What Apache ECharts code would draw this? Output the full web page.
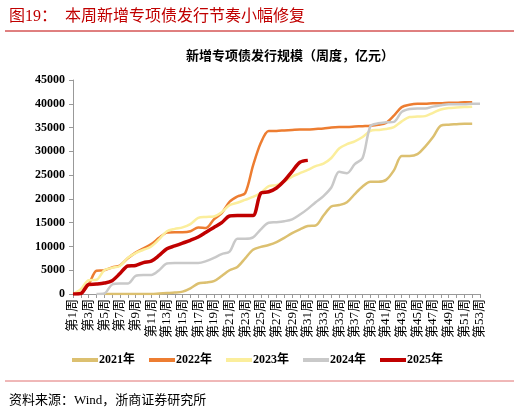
<!DOCTYPE html>
<html>
<head>
<meta charset="utf-8">
<script src="https://cdn.jsdelivr.net/npm/echarts@6/dist/echarts.min.js"></script>
<style>
  html, body { margin: 0; padding: 0; background: #fff; }
  #main { width: 520px; height: 412px; }
</style>
</head>
<body>
<div id="main"></div>
<script>
// 周度累计新增专项债（亿元）
var weeks = [];
for (var i = 1; i <= 53; i++) weeks.push('第' + i + '周');

var y2021 = [null, null, null, null, 0, 0, 0, 0, 0, 0, 0, 100, 200, 300, 500, 1200, 2200, 2400, 2700, 3800,
  5000, 5700, 7500, 9300, 9900, 10300, 10900, 11800, 12800, 13600, 14300, 14400, 16500, 18400, 18700, 19300,
  21000, 22600, 23600, 23600, 24000, 26000, 29000, 29000, 29400, 31000, 33000, 35400, 35600, 35700, 35800, 35800];
var y2022 = [0, 200, 2000, 4900, 5000, 5600, 6000, 7500, 8700, 9600, 10500, 11800, 12900, 13000, 13000, 13200,
  14000, 13900, 15700, 17000, 19400, 20500, 21200, 27000, 31800, 34300, 34300, 34400, 34500, 34600, 34600, 34700,
  34800, 35000, 35100, 35100, 35200, 35300, 35400, 35600, 36000, 37500, 39300, 39800, 40000, 40000, 40100, 40100,
  40200, 40200, 40300, 40300];
var y2023 = [0, 1000, 2900, 3000, 5000, 5500, 5900, 7600, 8600, 9300, 10000, 11500, 13200, 13700, 14000, 14700,
  16000, 16200, 16300, 17200, 18700, 19200, 19800, 20400, 21300, 22700, 22900, 23700, 24700, 25400, 26100, 26900,
  27400, 28600, 30600, 31500, 32100, 33000, 34300, 34500, 34700, 35100, 36300, 37200, 37300, 37400, 38100, 38800,
  39100, 39200, 39300, 39400];
var y2024 = [null, null, null, 0, 100, 2000, 2200, 2200, 3800, 4000, 4000, 5000, 6400, 6500, 6500, 6500, 6500,
  6900, 7600, 8400, 8900, 11600, 11600, 11900, 13600, 15000, 15100, 15300, 15700, 16700, 17900, 19300, 20600,
  22400, 25700, 25400, 27300, 28600, 35300, 35900, 36100, 36200, 38300, 38900, 39000, 39000, 39400, 39700, 39900,
  39900, 39900, 40000, 40000];
var y2025 = [0, 100, 2000, 2100, 2300, 2800, 4300, 5900, 6000, 6600, 6900, 8100, 9500, 10100, 10700, 11300,
  12000, 13000, 14000, 15000, 16400, 16500, 16500, 16500, 21200, 21500, 22300, 23800, 25800, 27700, 28100];

var seriesNames = ['2021年', '2022年', '2023年', '2024年', '2025年'];
var seriesData = [y2021, y2022, y2023, y2024, y2025];
var colors = ['#DCC070', '#ED7D31', '#FBEE9C', '#C9C9C9', '#C00000'];
var widths = [2.5, 2.5, 2.5, 2.5, 3.5];

var font = '"Liberation Serif", "Noto Sans CJK SC", serif';

var series = seriesNames.map(function (name, k) {
  return {
    name: name,
    type: 'line',
    data: seriesData[k],
    symbol: 'none',
    smooth: 0.3,
    color: colors[k],
    lineStyle: { width: widths[k], color: colors[k] },
    z: 2 + k
  };
});

var myChart = echarts.init(document.getElementById('main'));
var option = {
  backgroundColor: '#fff',
  animation: false,
  title: [{
    text: '图19：  本周新增专项债发行节奏小幅修复',
    left: 4, top: 4,
    textStyle: { fontFamily: font, fontSize: 16, fontWeight: 'normal', color: '#C00000' }
  }, {
    text: '新增专项债发行规模（周度，亿元）',
    left: 285, top: 45, textAlign: 'center',
    textStyle: { fontFamily: font, fontSize: 13, fontWeight: 'bold', color: '#000' }
  }, {
    text: '资料来源：Wind，浙商证券研究所',
    left: 4, top: 389,
    textStyle: { fontFamily: font, fontSize: 13, fontWeight: 'normal', color: '#000' }
  }],
  graphic: [{
    type: 'line', shape: { x1: 5, y1: 31, x2: 514, y2: 31 },
    style: { stroke: '#C00000', lineWidth: 1 }
  }, {
    type: 'line', shape: { x1: 5, y1: 381, x2: 514, y2: 381 },
    style: { stroke: '#E07070', lineWidth: 1 }
  }],
  legend: {
    data: seriesNames,
    left: 67, top: 349,
    itemWidth: 26, itemHeight: 4, itemGap: 14,
    icon: 'rect',
    textStyle: { fontFamily: font, fontSize: 12, fontWeight: 'bold', color: '#000', padding: [0, 0, 0, -4] }
  },
  grid: { left: 73, right: 40, top: 80, bottom: 118, containLabel: false },
  xAxis: {
    type: 'category',
    data: weeks,
    boundaryGap: false,
    axisLine: { lineStyle: { color: '#999', width: 1 } },
    axisTick: { interval: 0, length: 4, lineStyle: { color: '#999' } },
    axisLabel: {
      interval: 1, rotate: 90, margin: 5,
      fontFamily: font, fontSize: 13, color: '#000'
    }
  },
  yAxis: {
    type: 'value',
    min: 0, max: 45000, interval: 5000,
    axisLine: { show: true, lineStyle: { color: '#999', width: 1 } },
    axisTick: { show: true, length: 4, lineStyle: { color: '#999' } },
    splitLine: { show: false },
    axisLabel: {
      fontFamily: font, fontSize: 12, fontWeight: 'bold', color: '#000', margin: 8,
      formatter: function (v) { return String(v); }
    }
  },
  series: series
};
myChart.setOption(option);
</script>
</body>
</html>
